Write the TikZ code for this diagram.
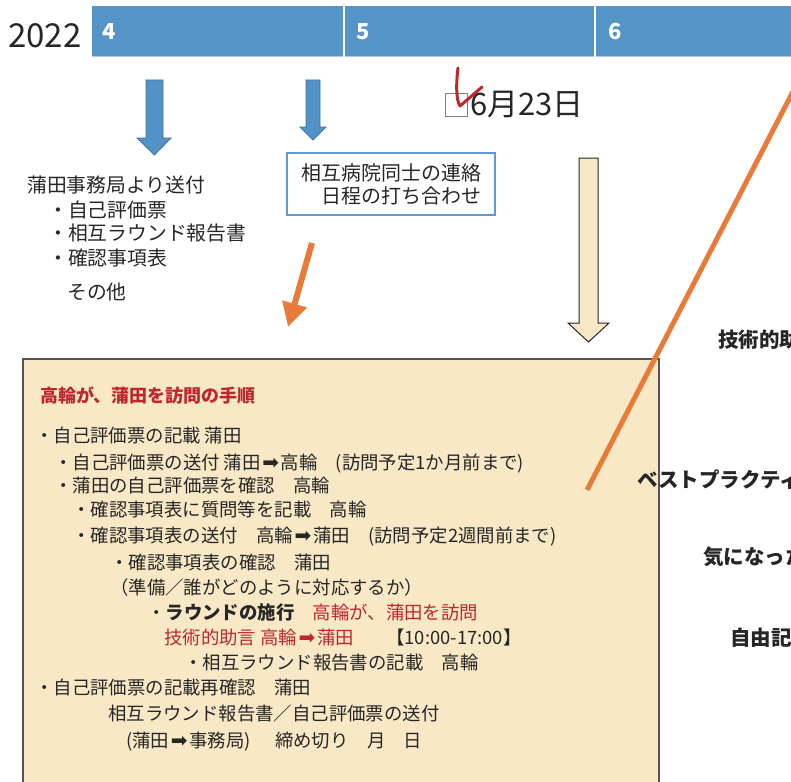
\documentclass[tikz,border=0pt]{standalone}
\usepackage{fontspec}
\setmainfont{Noto Sans CJK JP}
\newfontfamily\symfnt{DejaVu Sans}
\usetikzlibrary{arrows.meta}
\definecolor{barblue}{RGB}{84,148,199}
\definecolor{barline}{RGB}{170,200,230}
\definecolor{arrowblue}{RGB}{83,146,199}
\definecolor{arrowedge}{RGB}{64,113,160}
\definecolor{boxblue}{RGB}{100,150,210}
\definecolor{cream}{RGB}{248,232,197}
\definecolor{boxedge}{RGB}{85,85,85}
\definecolor{orng}{RGB}{232,122,58}
\definecolor{redtxt}{RGB}{192,39,45}
\definecolor{ink}{RGB}{38,38,38}
\newcommand{\rarr}{\makebox[20pt]{\symfnt\fontsize{20}{22}\selectfont ➡}}
\tikzset{
  body/.style={anchor=base west, inner sep=0pt, text=ink, font=\fontsize{18.4}{22}\selectfont},
  lst/.style={anchor=base west, inner sep=0pt, text=ink, font=\fontsize{19.8}{23}\selectfont},
  side/.style={anchor=base west, inner sep=0pt, text=ink, font=\fontsize{20.5}{24}\selectfont\bfseries},
  month/.style={anchor=base west, inner sep=0pt, text=white, font=\fontsize{22}{26}\selectfont\bfseries},
  seg/.style={fill=barblue, draw=none, anchor=north west, inner sep=0pt, minimum height=50pt},
  bluearrow/.style={fill=arrowblue, draw=arrowedge, line width=0.8pt, line join=miter},
}
\begin{document}
\begin{tikzpicture}[x=1pt,y=-1pt]
\useasboundingbox (0,0) rectangle (791,781);
\clip (0,0) rectangle (791,781);

% timeline bar
\node[seg, minimum width=251pt] (m4) at (92,6) {};
\node[seg, minimum width=249pt] (m5) at (345,6) {};
\node[seg, minimum width=200pt] (m6) at (596,6) {};
\draw[barline, line width=1pt] (m4.south west) -- (m4.south east);
\draw[barline, line width=1pt] (m5.south west) -- (m5.south east);
\draw[barline, line width=1pt] (m6.south west) -- (m6.south east);
\node[month] (l4) at (102,40) {4};
\node[month] (l5) at (356,40) {5};
\node[month] (l6) at (608,40) {6};
\node[anchor=base west, inner sep=0pt, text=ink, font=\fontsize{33}{38}\selectfont] (yr) at (8,48) {2022};

% blue arrows
\draw[bluearrow] (146,80) -- (163,80) -- (163,138) -- (171,138) -- (154.5,155) -- (137,138) -- (146,138) -- cycle;
\draw[bluearrow] (306,80) -- (320,80) -- (320,127) -- (326,127) -- (313,140) -- (300,127) -- (306,127) -- cycle;

% left list
\node[lst] (s0) at (27,192) {蒲田事務局より送付};
\node[lst] (s1) at (48,217) {・自己評価票};
\node[lst] (s2) at (48,240) {・相互ラウンド報告書};
\node[lst] (s3) at (48,265) {・確認事項表};
\node[lst] (s4) at (67,299) {その他};

% meeting box
\node[draw=boxblue, line width=1.2pt, minimum width=208pt, minimum height=62pt, inner sep=0pt,
      align=right, text=ink, font=\fontsize{20}{23}\selectfont] (mtg) at (391,184)
      {相互病院同士の連絡\\日程の打ち合わせ};

% orange arrow
\coordinate (o1) at (312,243);
\coordinate (o2) at (288,327);
\draw[orng, line width=6pt, -{Triangle[length=24pt, width=24pt]}] (o1) -- (o2);

% date
\node[draw=gray, line width=1pt, minimum size=22pt, inner sep=0pt] (sq) at (456,105) {};
\node[anchor=base west, inner sep=0pt, text=ink, font=\fontsize{31}{36}\selectfont] (date) at (470,115) {6月23日};
\draw[redtxt, line width=3pt, line cap=round, line join=round]
  (458,68) .. controls (456,84) and (456,100) .. (460,106) -- (482,87);

% cream arrow
\draw[fill=cream, draw=ink, line width=1pt] (579,158) -- (598,158) -- (598,323) -- (609,323) -- (588.5,342) -- (568,323) -- (579,323) -- cycle;

% main box
\node[draw=boxedge, fill=cream, line width=1.5pt, anchor=north west, minimum width=636pt, minimum height=460pt, inner sep=0pt] (main) at (22,358) {};

\node[anchor=base west, inner sep=0pt, text=redtxt, font=\fontsize{18}{22}\selectfont\bfseries] (title) at (40,402) {高輪が、蒲田を訪問の手順};
\node[body] (t1) at (35,442) {・自己評価票の記載 蒲田};
\node[body] (t2) at (54,469) {・自己評価票の送付 蒲田\rarr 高輪　(訪問予定1か月前まで)};
\node[body] (t3) at (54,492) {・蒲田の自己評価票を確認　高輪};
\node[body] (t4) at (72,516) {・確認事項表に質問等を記載　高輪};
\node[body] (t5) at (72,542) {・確認事項表の送付　高輪\rarr 蒲田　(訪問予定2週間前まで)};
\node[body] (t6) at (110,569) {・確認事項表の確認　蒲田};
\node[body] (t7) at (110,594) {（準備／誰がどのように対応するか）};
\node[body] (t8) at (147,619) {・\textbf{ラウンドの施行}　\textcolor{redtxt}{高輪が、蒲田を訪問}};
\node[body] (t9) at (164,644) {\textcolor{redtxt}{技術的助言 高輪\rarr 蒲田}　\hspace{14pt}【10:00-17:00】};
\node[body] (t10) at (184,669) {・相互ラウンド報告書の記載　高輪};
\node[body] (t11) at (35,694) {・自己評価票の記載再確認　蒲田};
\node[body] (t12) at (108,720) {相互ラウンド報告書／自己評価票の送付};
\node[body] (t13) at (126,747) {(蒲田\rarr 事務局)\hspace{6pt}　締め切り　月　日};

% diagonal orange line
\coordinate (d1) at (800,78);
\coordinate (d2) at (587,490);
\draw[orng, line width=5pt] (d1) -- (d2);

% right side labels (cut by the picture's right edge, as in the reference)
\node[side] (r1) at (718,347) {技術的助言};
\node[side] (r2) at (637,487) {ベストプラクティス};
\node[side] (r3) at (703,564) {気になった点};
\node[side] (r4) at (730,645) {自由記載};
\end{tikzpicture}
\end{document}
